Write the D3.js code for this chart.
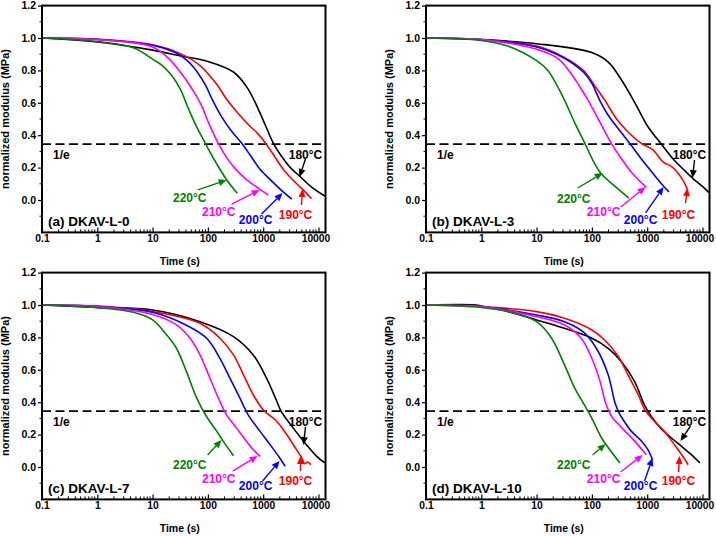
<!DOCTYPE html>
<html><head><meta charset="utf-8">
<script src="https://cdn.jsdelivr.net/npm/d3@7"></script>
<style>
body{margin:0;background:#fff}
text{font-family:"Liberation Sans",Arial,sans-serif;font-weight:bold}
</style>
</head><body>
<svg id="chart" width="716" height="537"></svg>
<script>
// ---------- data ----------
const temps = ["180°C","190°C","200°C","210°C","220°C"];
const colors = ["#000000","#ff0000","#0000ff","#ff00ff","#008000"];
const xTicks = [0.1,1,10,100,1000,10000];
const yTicks = [0,0.2,0.4,0.6,0.8,1.0,1.2];
const yMinor = [-0.1,0.1,0.3,0.5,0.7,0.9,1.1];
const eLevel = 0.345;
const eLabel = "1/e";
const panelTitles = ["(a) DKAV-L-0","(b) DKAV-L-3","(c) DKAV-L-7","(d) DKAV-L-10"];
const xTitle = "Time (s)";
const yTitle = "normalized modulus (MPa)";

// panel (a) DKAV-L-0  [time s, normalized modulus]
const a180 = [[0.1,1],[1,0.975],[10,0.925],[31,0.89],[100,0.855],[290,0.79],[500,0.7],[770,0.58],[1100,0.46],[1530,0.35],[2100,0.275],[3100,0.2],[4650,0.145],[7500,0.08],[13000,0.025]];
const a190 = [[0.1,1],[1,0.992],[10,0.958],[31,0.905],[72,0.83],[140,0.72],[220,0.62],[350,0.535],[577,0.455],[800,0.41],[1080,0.355],[1600,0.27],[2300,0.19],[3300,0.13],[5000,0.07],[7500,0.008]];
const a200 = [[0.1,1],[1,0.992],[10,0.955],[31,0.895],[55,0.82],[90,0.71],[120,0.62],[180,0.51],[260,0.43],[410,0.35],[600,0.27],[875,0.19],[1400,0.12],[2300,0.05],[3300,0.005]];
const a210 = [[0.1,1],[1,0.99],[10,0.945],[20,0.87],[35,0.77],[55,0.67],[75,0.59],[105,0.47],[154,0.35],[220,0.26],[300,0.2],[480,0.13],[875,0.065],[1236,0.03]];
const a220 = [[0.1,1],[1,0.978],[4.5,0.94],[10,0.87],[15,0.83],[22,0.77],[31,0.69],[45,0.56],[65,0.44],[90,0.35],[130,0.25],[220,0.123],[340,0.041]];

// panel (b) DKAV-L-3
const b180 = [[0.1,1],[1,0.99],[10,0.965],[100,0.91],[200,0.85],[330,0.75],[600,0.6],[1000,0.46],[1800,0.345],[3000,0.25],[4500,0.19],[6680,0.134],[9500,0.09],[13200,0.045]];
const b190 = [[0.1,1],[1,0.99],[10,0.95],[30,0.885],[70,0.8],[110,0.71],[170,0.617],[280,0.5],[450,0.42],[783,0.35],[1270,0.31],[1930,0.236],[2910,0.2],[4420,0.123],[5450,0.057]];
const b200 = [[0.1,1],[1,0.99],[10,0.945],[30,0.88],[70,0.79],[100,0.72],[138,0.617],[200,0.52],[300,0.44],[482,0.35],[800,0.25],[1300,0.16],[1980,0.085],[2470,0.05]];
const b210 = [[0.1,1],[1,0.99],[10,0.93],[25,0.87],[40,0.79],[60,0.7],[85,0.617],[130,0.5],[225,0.35],[350,0.25],[550,0.16],[964,0.078]];
const b220 = [[0.1,1],[1,0.985],[3,0.95],[10,0.86],[16,0.8],[24,0.7],[32,0.617],[50,0.47],[74.5,0.35],[110,0.23],[149,0.16],[250,0.09],[468,0.012]];

// panel (c) DKAV-L-7
const c180 = [[0.1,1],[1,0.985],[10,0.969],[72,0.897],[290,0.805],[660,0.692],[1150,0.548],[1770,0.404],[2100,0.345],[3500,0.24],[6040,0.138],[9300,0.066],[13000,0.025]];
const c190 = [[0.1,1],[1,0.993],[10,0.96],[72,0.887],[165,0.795],[290,0.692],[440,0.569],[660,0.446],[1000,0.353],[1770,0.281],[2680,0.199],[4000,0.107],[5000,0.055],[5600,0.02],[6300,0.03],[7300,0.015]];
const c200 = [[0.1,1],[1,0.992],[10,0.955],[40,0.877],[95,0.795],[165,0.671],[250,0.548],[380,0.425],[535,0.322],[880,0.22],[1330,0.138],[1900,0.066],[2500,0.004]];
const c210 = [[0.1,1],[1,0.99],[10,0.942],[27,0.877],[47.5,0.795],[72,0.692],[109,0.548],[155,0.425],[217,0.322],[330,0.24],[500,0.158],[660,0.107],[880,0.066]];
const c220 = [[0.1,1],[1,0.984],[4.5,0.955],[10,0.908],[18,0.815],[27,0.733],[41,0.589],[62,0.43],[95,0.31],[145,0.22],[190,0.158],[290,0.07]];

// panel (d) DKAV-L-10
const d180 = [[0.1,1],[0.8,1],[1,0.994],[3.1,0.959],[10,0.908],[32,0.856],[100,0.795],[197,0.733],[340,0.651],[590,0.528],[900,0.38],[1200,0.31],[1800,0.235],[2750,0.179],[4200,0.127],[6300,0.076],[9000,0.025]];
const d190 = [[0.1,1],[1,0.99],[10,0.959],[32,0.918],[100,0.846],[170,0.784],[300,0.682],[450,0.569],[690,0.446],[910,0.353],[1360,0.281],[2050,0.22],[3100,0.138],[4400,0.066],[5500,0.014]];
const d200 = [[0.1,1],[1,0.99],[10,0.938],[32,0.897],[75,0.825],[130,0.713],[197,0.569],[260,0.4],[300,0.345],[340,0.31],[520,0.22],[800,0.158],[1030,0.107],[1250,0.045]];
const d210 = [[0.1,1],[1,0.99],[10,0.928],[32,0.877],[64,0.795],[100,0.67],[140,0.53],[175,0.4],[200,0.35],[240,0.3],[300,0.265],[400,0.22],[600,0.158],[960,0.076]];
const d220 = [[0.1,1],[1,0.985],[3.1,0.959],[10,0.897],[18.7,0.795],[32,0.63],[49,0.487],[74,0.38],[100,0.3],[150,0.179],[200,0.117],[320,0.025]];

// temperature labels: [text t, text v, arrow-start t, v, arrow-end t, v] in temps order
const labA = [[5820,0.278,5820,0.253,4540,0.142],[3850,-0.093,4930,-0.031,5140,0.068],[730,-0.123,935,-0.086,2240,0.043],[157,-0.074,269,-0.025,861,0.062],[47,0.012,65.5,0.062,218,0.123]];
const labB = [[5820,0.278,7180,0.247,6610,0.136],[3690,-0.093,4930,-0.019,5360,0.074],[760,-0.123,935,-0.08,1980,0.08],[163,-0.074,331,-0.043,935,0.08],[47,0.006,55.5,0.074,157,0.167]];
const labC = [[5820,0.278,5820,0.247,5360,0.136],[3850,-0.086,4730,-0.025,4730,0.068],[730,-0.117,975,-0.086,1980,0.037],[157,-0.074,281,-0.025,793,0.068],[47,0.012,99,0.074,177,0.167]];
const labD = [[5820,0.278,6070,0.253,4010,0.16],[3690,-0.086,3690,-0.031,3850,0.068],[760,-0.117,897,-0.086,1250,0.056],[163,-0.074,331,-0.031,826,0.074],[47,0.012,103,0.074,177,0.142]];

const panelSeries = [[a180,a190,a200,a210,a220],[b180,b190,b200,b210,b220],[c180,c190,c200,c210,c220],[d180,d190,d200,d210,d220]];
const panelLabels = [labA,labB,labC,labD];

// ---------- layout ----------
const W = 283.5, H = 226.8;
const origins = [[42,5.6],[426,5.6],[42,272.6],[426,272.6]];
const svg = d3.select("#chart");

const x = d3.scaleLog().domain([0.1,13400]).range([0,W]);
const y = d3.scaleLinear().domain([-0.2,1.2]).range([H,0]);
const line = d3.line().x(d=>x(d[0])).y(d=>y(d[1])).curve(d3.curveCatmullRom.alpha(0.5));

const xMinor = [];
[0.1,1,10,100,1000].forEach(dec=>{for(let k=2;k<=9;k++){const v=dec*k; if(v<=13400) xMinor.push(v);}});

origins.forEach((o,pi)=>{
  const g = svg.append("g").attr("transform",`translate(${o[0]},${o[1]})`);
  const clipId = "clip"+pi;
  g.append("clipPath").attr("id",clipId).append("rect").attr("width",W).attr("height",H);

  // x axis ticks (inward)
  const xa = g.append("g").attr("transform",`translate(0,${H})`);
  xa.call(d3.axisBottom(x).tickValues(xTicks).tickSize(-5).tickFormat(d=>String(d)).tickPadding(8));
  xa.select(".domain").remove();
  xa.selectAll(".tick line").attr("stroke","#000").attr("stroke-width",1.2);
  xa.selectAll(".tick text").attr("font-size",10.3).attr("fill","#000").attr("dy","0.2em")
    .attr("dx",d=>d===10000?-3:0);
  xa.selectAll(".minor").data(xMinor).enter().append("line")
    .attr("x1",d=>x(d)).attr("x2",d=>x(d)).attr("y1",0).attr("y2",-3)
    .attr("stroke","#000").attr("stroke-width",1);

  // y axis ticks (outward)
  const ya = g.append("g");
  ya.call(d3.axisLeft(y).tickValues(yTicks).tickSize(4).tickFormat(d3.format(".1f")).tickPadding(2));
  ya.select(".domain").remove();
  ya.selectAll(".tick line").attr("stroke","#000").attr("stroke-width",1.2);
  ya.selectAll(".tick text").attr("font-size",10.5).attr("fill","#000");
  ya.selectAll(".minor").data(yMinor).enter().append("line")
    .attr("x1",0).attr("x2",-2.5).attr("y1",d=>y(d)).attr("y2",d=>y(d))
    .attr("stroke","#000").attr("stroke-width",1);

  // axis titles
  g.append("text").attr("x",W/2-4).attr("y",H+33).attr("text-anchor","middle")
    .attr("font-size",10.5).text(xTitle);
  g.append("text").attr("transform",`translate(-33,${H/2}) rotate(-90)`)
    .attr("text-anchor","middle").attr("font-size",11).text(yTitle);

  // 1/e dashed line
  g.append("line").attr("x1",0).attr("x2",W).attr("y1",y(eLevel)).attr("y2",y(eLevel))
    .attr("stroke","#000").attr("stroke-width",1.6).attr("stroke-dasharray","9,4.5");
  g.append("text").attr("x",x(0.158)).attr("y",y(0.278)).attr("dominant-baseline","central")
    .attr("font-size",12).text(eLabel);

  // curves
  const cg = g.append("g").attr("clip-path",`url(#${clipId})`);
  panelSeries[pi].forEach((s,si)=>{
    cg.append("path").datum(s).attr("d",line).attr("fill","none")
      .attr("stroke",colors[si]).attr("stroke-width",1.6);
  });

  // temperature labels + arrows
  panelLabels[pi].forEach((L,si)=>{
    const col = colors[si];
    g.append("text").attr("x",x(L[0])).attr("y",y(L[1])).attr("text-anchor","middle")
      .attr("dominant-baseline","central").attr("font-size",12).attr("fill",col).text(temps[si]);
    const x1=x(L[2]), y1=y(L[3]), x2=x(L[4]), y2=y(L[5]);
    const ang = Math.atan2(y2-y1,x2-x1), hl=8, hw=3.5;
    const bx = x2-hl*Math.cos(ang), by = y2-hl*Math.sin(ang);
    g.append("line").attr("x1",x1).attr("y1",y1).attr("x2",bx).attr("y2",by)
      .attr("stroke",col).attr("stroke-width",1.4);
    g.append("path").attr("d",`M${x2},${y2}L${bx+hw*Math.sin(ang)},${by-hw*Math.cos(ang)}L${bx-hw*Math.sin(ang)},${by+hw*Math.cos(ang)}Z`)
      .attr("fill",col);
  });

  // panel title
  g.append("text").attr("x",x(0.128)).attr("y",y(-0.13)).attr("dominant-baseline","central")
    .attr("font-size",13.5).text(panelTitles[pi]);

  // frame
  g.append("rect").attr("width",W).attr("height",H).attr("fill","none")
    .attr("stroke","#000").attr("stroke-width",2);
});
</script>
</body></html>
